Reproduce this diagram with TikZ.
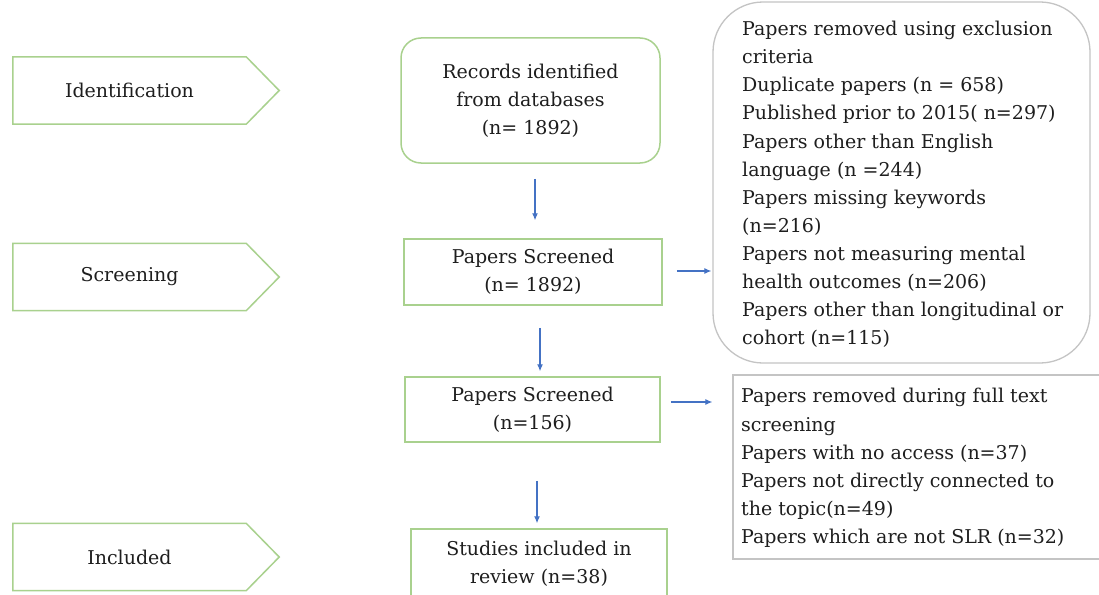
\documentclass[tikz,border=0pt]{standalone}
\usepackage{fontspec}
\setmainfont{DejaVu Serif}
\usetikzlibrary{arrows.meta,calc}
\definecolor{boxgreen}{RGB}{169,209,142}
\definecolor{boxgray}{RGB}{196,196,196}
\definecolor{arrowblue}{RGB}{68,114,196}
\definecolor{txt}{RGB}{30,30,30}
\begin{document}
\begin{tikzpicture}[x=1pt,y=-1pt,
  every node/.style={font=\rmfamily\fontsize{19}{28.1}\selectfont, text=txt},
  stagebox/.style={minimum width=233pt, minimum height=67pt, inner sep=0pt},
  stageline/.style={draw=boxgreen, line width=1.5pt, line join=miter},
  greenbox/.style={draw=boxgreen, line width=1.5pt, align=center, inner sep=0pt},
  graybox/.style={draw=boxgray, line width=1.3pt, inner sep=0pt},
  flow/.style={draw=arrowblue, line width=1.1pt, -{Latex[length=7pt,width=6pt]}},
  listtext/.style={align=left, anchor=west, inner sep=0pt}]
\useasboundingbox (0,0) rectangle (1099,594);
\clip (0,0) rectangle (1099,594);
\fill[white] (0,0) rectangle (1099,594);

% stage labels
\node[stagebox] (idb) at (129.5,90.5) {Identification};
\draw[stageline] (idb.north west) -- (idb.north east) -- ($(idb.east)+(33,0)$) -- (idb.south east) -- (idb.south west) -- cycle;
\node[stagebox] (scb) at (129.5,277) {Screening};
\draw[stageline] (scb.north west) -- (scb.north east) -- ($(scb.east)+(33,0)$) -- (scb.south east) -- (scb.south west) -- cycle;
\node[stagebox] (inb) at (129.5,557) {Included};
\draw[stageline] (inb.north west) -- (inb.north east) -- ($(inb.east)+(33,0)$) -- (inb.south east) -- (inb.south west) -- cycle;

% main flow
\node[greenbox, rounded corners=20pt, minimum width=259pt, minimum height=125pt] (rec) at (530.5,100.5) {Records identified\\from databases\\(n= 1892)};
\node[greenbox, minimum width=258pt, minimum height=66pt] (ps1) at (533,272) {Papers Screened\\(n= 1892)};
\node[greenbox, minimum width=255pt, minimum height=65pt] (ps2) at (532.5,409.5) {Papers Screened\\(n=156)};
\node[greenbox, minimum width=256pt, minimum height=70pt] (inc) at (539,564) {Studies included in\\review (n=38)};

% exclusion boxes
\node[graybox, rounded corners=50pt, minimum width=377pt, minimum height=361pt] (excl) at (901.5,182.5) {};
\node[listtext] (excltext) at (742,184.5) {Papers removed using exclusion\\criteria\\Duplicate papers (n = 658)\\Published prior to 2015( n=297)\\Papers other than English\\language (n =244)\\Papers missing keywords\\(n=216)\\Papers not measuring mental\\health outcomes (n=206)\\Papers other than longitudinal or\\cohort (n=115)};
\node[graybox, minimum width=380pt, minimum height=184pt] (full) at (923,467) {};
\node[listtext] (fulltext) at (741,468) {Papers removed during full text\\screening\\Papers with no access (n=37)\\Papers not directly connected to\\the topic(n=49)\\Papers which are not SLR (n=32)};

% connectors
\draw[flow, shorten <=15pt, shorten >=18pt] ([xshift=4.5pt]rec.south) -- ([xshift=2pt]ps1.north);
\draw[flow, shorten <=22pt, shorten >=5pt] ([xshift=7pt]ps1.south) -- ([xshift=7.5pt]ps2.north);
\draw[flow, shorten <=38pt, shorten >=5pt] ([xshift=4.5pt]ps2.south) -- ([xshift=-2pt]inc.north);
\draw[flow, shorten <=14pt, shorten >=1pt] ([yshift=1pt]ps1.east) -- ([yshift=1pt]ps1.east -| excl.west);
\draw[flow, shorten <=10pt, shorten >=20pt] ([yshift=7.5pt]ps2.east) -- ([yshift=7.5pt]ps2.east -| full.west);
\end{tikzpicture}
\end{document}
